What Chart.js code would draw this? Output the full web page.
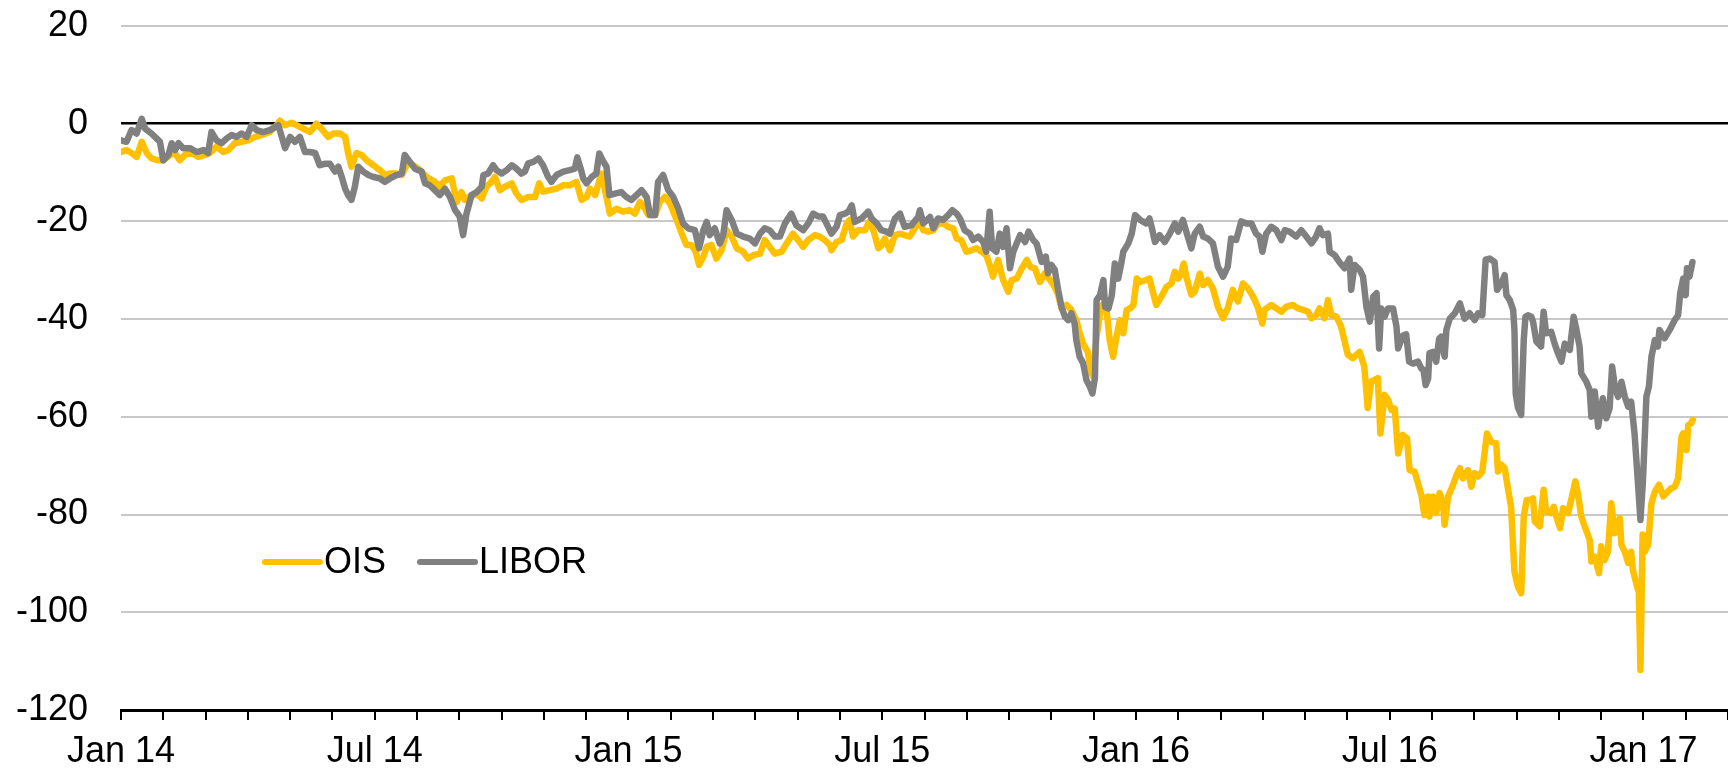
<!DOCTYPE html>
<html>
<head>
<meta charset="utf-8">
<script src="https://cdn.jsdelivr.net/npm/chart.js@4.4.0/dist/chart.umd.min.js"></script>
<style>
  html, body { margin: 0; padding: 0; background: #fff; }
  #chart { display: block; }
</style>
</head>
<body>
<canvas id="chart" width="1728" height="771" style="width:1728px;height:771px"></canvas>
<script>
// x values are months since Jan 2014
const xTickLabels = ['Jan 14', 'Jul 14', 'Jan 15', 'Jul 15', 'Jan 16', 'Jul 16', 'Jan 17'];
const yTicks = [20, 0, -20, -40, -60, -80, -100, -120];

const liborMonths = [
  0.00, 0.13, 0.25, 0.37, 0.49, 0.57, 0.72, 0.84, 0.92, 1.00,
  1.12, 1.20, 1.28, 1.36, 1.47, 1.63, 1.79, 1.95, 2.06, 2.14,
  2.26, 2.38, 2.50, 2.62, 2.73, 2.85, 2.97, 3.09, 3.21, 3.36,
  3.52, 3.72, 3.88, 4.00, 4.11, 4.23, 4.35, 4.47, 4.59, 4.70,
  4.82, 4.94, 5.06, 5.14, 5.22, 5.30, 5.37, 5.45, 5.53, 5.61,
  5.73, 5.85, 5.97, 6.12, 6.24, 6.36, 6.52, 6.64, 6.71, 6.83,
  6.95, 7.11, 7.19, 7.30, 7.42, 7.54, 7.66, 7.78, 7.90, 8.01,
  8.09, 8.17, 8.29, 8.41, 8.53, 8.57, 8.68, 8.80, 8.88, 9.00,
  9.12, 9.24, 9.35, 9.47, 9.55, 9.63, 9.75, 9.87, 9.98, 10.10,
  10.18, 10.30, 10.46, 10.61, 10.73, 10.79, 10.87, 10.93, 11.01, 11.13,
  11.24, 11.31, 11.39, 11.48, 11.55, 11.68, 11.83, 11.95, 12.07, 12.19,
  12.31, 12.43, 12.51, 12.63, 12.70, 12.82, 12.94, 13.06, 13.18, 13.29,
  13.41, 13.57, 13.67, 13.77, 13.85, 13.92, 14.04, 14.16, 14.24, 14.32,
  14.44, 14.56, 14.71, 14.87, 14.99, 15.11, 15.22, 15.34, 15.46, 15.58,
  15.70, 15.85, 15.97, 16.13, 16.25, 16.37, 16.49, 16.60, 16.68, 16.80,
  16.92, 17.00, 17.12, 17.20, 17.28, 17.35, 17.51, 17.67, 17.75, 17.87,
  17.98, 18.10, 18.18, 18.30, 18.42, 18.53, 18.69, 18.85, 18.89, 18.97,
  19.13, 19.21, 19.32, 19.44, 19.56, 19.66, 19.76, 19.84, 19.95, 20.07,
  20.15, 20.27, 20.39, 20.46, 20.54, 20.60, 20.70, 20.78, 20.86, 20.94,
  21.02, 21.10, 21.26, 21.38, 21.46, 21.57, 21.65, 21.77, 21.87, 21.92,
  22.00, 22.08, 22.16, 22.24, 22.32, 22.40, 22.47, 22.55, 22.59, 22.67,
  22.75, 22.83, 22.91, 22.97, 23.03, 23.07, 23.15, 23.23, 23.27, 23.35,
  23.43, 23.50, 23.58, 23.66, 23.70, 23.82, 23.90, 23.98, 24.10, 24.24,
  24.32, 24.37, 24.45, 24.56, 24.68, 24.80, 24.88, 24.92, 25.00, 25.11,
  25.19, 25.31, 25.39, 25.51, 25.59, 25.70, 25.82, 25.94, 26.06, 26.17,
  26.25, 26.37, 26.49, 26.61, 26.73, 26.84, 26.92, 26.99, 27.08, 27.20,
  27.32, 27.44, 27.52, 27.63, 27.79, 27.91, 28.03, 28.15, 28.26, 28.34,
  28.42, 28.54, 28.58, 28.70, 28.81, 28.93, 29.05, 29.09, 29.17, 29.29,
  29.37, 29.45, 29.53, 29.61, 29.69, 29.75, 29.80, 29.88, 29.96, 30.08,
  30.16, 30.20, 30.31, 30.39, 30.46, 30.55, 30.67, 30.75, 30.80, 30.85,
  30.91, 30.94, 31.02, 31.10, 31.17, 31.22, 31.30, 31.34, 31.42, 31.54,
  31.66, 31.77, 31.89, 32.01, 32.09, 32.19, 32.27, 32.36, 32.48, 32.54,
  32.64, 32.72, 32.76, 32.84, 32.92, 32.95, 32.98, 33.03, 33.11, 33.17,
  33.21, 33.27, 33.35, 33.39, 33.47, 33.58, 33.64, 33.70, 33.82, 33.90,
  33.98, 34.06, 34.14, 34.26, 34.35, 34.41, 34.49, 34.53, 34.65, 34.73,
  34.77, 34.85, 34.93, 34.96, 35.04, 35.12, 35.20, 35.26, 35.32, 35.40,
  35.48, 35.56, 35.64, 35.71, 35.79, 35.85, 35.93, 35.99, 36.07, 36.13,
  36.19, 36.27, 36.34, 36.38, 36.50, 36.62, 36.74, 36.82, 36.87, 36.94,
  37.00, 37.03, 37.09, 37.16
];
const liborValues = [
  -3.4, -3.7, -1.3, -2.0, 1.0, -1.0, -2.0, -3.0, -3.7, -7.5,
  -6.4, -4.0, -5.4, -4.0, -5.0, -5.0, -5.8, -5.4, -6.0, -1.7,
  -3.4, -4.0, -3.0, -2.3, -2.7, -2.0, -2.7, -0.3, -1.3, -1.7,
  -1.3, -0.3, -5.0, -2.7, -3.7, -2.7, -5.8, -5.8, -6.0, -8.5,
  -8.2, -8.2, -9.8, -8.8, -10.9, -13.3, -14.6, -15.6, -12.9, -8.8,
  -9.8, -10.5, -10.9, -11.2, -11.9, -11.2, -10.5, -10.2, -6.4, -7.8,
  -9.2, -9.8, -12.2, -12.6, -13.6, -14.6, -13.3, -15.0, -17.7, -19.0,
  -22.8, -18.4, -14.6, -14.0, -12.9, -10.5, -10.2, -8.5, -9.5, -10.2,
  -9.5, -8.5, -9.2, -10.2, -9.8, -8.1, -7.8, -7.1, -8.5, -10.9,
  -11.9, -10.5, -9.8, -9.5, -9.2, -6.9, -9.2, -11.2, -12.2, -10.9,
  -10.2, -6.1, -7.5, -8.8, -14.6, -14.3, -14.0, -15.0, -15.6, -14.6,
  -13.6, -15.0, -18.7, -18.7, -11.9, -10.5, -13.6, -15.0, -17.4, -20.4,
  -21.4, -21.8, -25.5, -21.8, -20.1, -22.8, -21.4, -24.5, -22.8, -17.7,
  -19.7, -22.5, -23.1, -23.5, -24.5, -22.5, -21.4, -21.8, -23.1, -23.1,
  -20.4, -18.4, -20.8, -21.8, -20.4, -18.4, -19.0, -19.0, -20.4, -22.5,
  -21.1, -18.7, -18.4, -18.0, -16.7, -20.1, -19.4, -18.0, -19.4, -20.4,
  -21.8, -22.1, -22.5, -19.4, -18.4, -21.1, -20.8, -19.1, -17.7, -20.4,
  -19.1, -21.4, -19.4, -19.7, -18.7, -17.7, -18.4, -19.4, -21.8, -22.5,
  -23.8, -23.1, -24.2, -26.2, -18.0, -25.5, -26.2, -22.5, -25.2, -21.4,
  -29.6, -26.2, -22.8, -24.2, -22.1, -23.8, -24.5, -28.3, -27.2, -30.6,
  -28.9, -29.9, -34.0, -37.5, -39.5, -40.2, -38.8, -40.9, -44.3, -47.7,
  -49.0, -52.5, -53.8, -55.2, -52.1, -36.1, -35.1, -32.0, -37.5, -37.8,
  -35.1, -28.6, -31.7, -28.3, -26.2, -24.5, -22.5, -18.7, -19.7, -20.4,
  -19.4, -21.1, -24.2, -22.8, -24.2, -22.5, -21.1, -20.4, -22.1, -19.7,
  -22.1, -25.5, -22.5, -21.1, -23.1, -23.5, -24.5, -29.3, -31.3, -29.3,
  -23.5, -23.8, -20.0, -20.4, -20.4, -22.5, -23.1, -26.2, -22.5, -21.1,
  -21.8, -23.8, -21.8, -22.1, -23.1, -21.8, -23.1, -24.5, -23.1, -21.4,
  -22.8, -22.5, -26.2, -26.9, -28.3, -29.6, -27.6, -34.0, -28.9, -29.9,
  -31.3, -37.5, -40.5, -35.4, -34.7, -46.0, -37.8, -39.5, -37.8, -37.8,
  -41.5, -46.0, -43.4, -43.1, -48.7, -49.1, -48.7, -50.1, -50.4, -53.5,
  -52.1, -47.0, -46.7, -48.7, -44.0, -43.6, -47.7, -42.2, -39.9, -38.8,
  -36.8, -39.9, -38.8, -40.2, -38.8, -39.2, -27.8, -27.6, -28.3, -34.0,
  -32.7, -31.0, -35.1, -36.1, -38.1, -42.2, -55.2, -58.0, -59.6, -44.3,
  -39.5, -39.2, -39.5, -40.5, -44.6, -45.6, -38.5, -42.9, -42.6, -45.0,
  -47.0, -48.7, -45.0, -46.3, -39.5, -41.9, -45.6, -51.1, -52.8, -54.5,
  -60.0, -54.8, -62.0, -60.3, -56.2, -60.3, -58.3, -49.7, -53.5, -55.9,
  -52.8, -55.9, -57.9, -56.9, -63.4, -70.9, -81.1, -72.9, -55.9, -53.8,
  -47.7, -44.3, -45.6, -42.2, -43.9, -42.2, -40.2, -39.2, -34.7, -31.7,
  -35.1, -29.6, -31.3, -28.3
];

const oisMonths = [
  0.00, 0.13, 0.25, 0.37, 0.49, 0.61, 0.72, 0.88, 1.00, 1.16,
  1.28, 1.39, 1.51, 1.67, 1.83, 1.99, 2.10, 2.26, 2.42, 2.54,
  2.69, 2.85, 3.01, 3.17, 3.33, 3.52, 3.68, 3.76, 3.88, 4.03,
  4.15, 4.31, 4.47, 4.62, 4.74, 4.90, 5.02, 5.18, 5.30, 5.37,
  5.45, 5.57, 5.69, 5.81, 5.97, 6.12, 6.24, 6.36, 6.52, 6.64,
  6.79, 6.91, 7.07, 7.23, 7.42, 7.54, 7.66, 7.82, 7.94, 8.05,
  8.13, 8.29, 8.45, 8.53, 8.64, 8.76, 8.84, 8.96, 9.08, 9.24,
  9.35, 9.47, 9.63, 9.79, 9.89, 9.98, 10.14, 10.30, 10.46, 10.61,
  10.77, 10.89, 11.01, 11.09, 11.21, 11.36, 11.48, 11.56, 11.72, 11.87,
  12.03, 12.15, 12.27, 12.39, 12.47, 12.63, 12.74, 12.86, 12.98, 13.14,
  13.26, 13.37, 13.49, 13.59, 13.67, 13.77, 13.85, 13.96, 14.08, 14.20,
  14.32, 14.44, 14.56, 14.71, 14.83, 14.95, 15.11, 15.22, 15.34, 15.46,
  15.62, 15.74, 15.89, 16.01, 16.13, 16.25, 16.41, 16.52, 16.64, 16.76,
  16.80, 16.92, 17.04, 17.16, 17.23, 17.31, 17.43, 17.59, 17.69, 17.79,
  17.91, 17.98, 18.06, 18.18, 18.30, 18.42, 18.53, 18.65, 18.77, 18.89,
  18.97, 19.09, 19.21, 19.32, 19.44, 19.56, 19.68, 19.76, 19.87, 19.99,
  20.11, 20.23, 20.35, 20.46, 20.54, 20.62, 20.74, 20.86, 20.98, 21.06,
  21.18, 21.30, 21.42, 21.50, 21.61, 21.73, 21.85, 21.97, 22.08, 22.16,
  22.24, 22.36, 22.47, 22.59, 22.67, 22.75, 22.86, 22.94, 22.99, 23.07,
  23.15, 23.23, 23.30, 23.38, 23.46, 23.54, 23.62, 23.70, 23.78, 23.86,
  23.94, 24.02, 24.10, 24.24, 24.32, 24.48, 24.60, 24.72, 24.84, 24.92,
  25.00, 25.07, 25.13, 25.19, 25.31, 25.39, 25.51, 25.59, 25.70, 25.82,
  25.94, 26.06, 26.17, 26.29, 26.41, 26.53, 26.65, 26.77, 26.88, 26.99,
  27.04, 27.20, 27.32, 27.44, 27.55, 27.71, 27.83, 27.95, 28.07, 28.15,
  28.26, 28.34, 28.46, 28.54, 28.62, 28.74, 28.85, 29.01, 29.13, 29.29,
  29.40, 29.48, 29.56, 29.72, 29.78, 29.88, 29.96, 30.04, 30.12, 30.20,
  30.31, 30.41, 30.47, 30.59, 30.67, 30.75, 30.82, 30.90, 30.94, 31.02,
  31.10, 31.18, 31.26, 31.30, 31.38, 31.50, 31.58, 31.66, 31.73, 31.85,
  31.93, 32.01, 32.09, 32.19, 32.30, 32.40, 32.52, 32.56, 32.64, 32.72,
  32.79, 32.87, 32.95, 33.03, 33.11, 33.17, 33.24, 33.31, 33.39, 33.43,
  33.55, 33.64, 33.70, 33.82, 33.88, 33.94, 34.03, 34.10, 34.22, 34.30,
  34.39, 34.45, 34.53, 34.61, 34.73, 34.77, 34.85, 34.95, 35.00, 35.08,
  35.16, 35.24, 35.32, 35.44, 35.48, 35.56, 35.64, 35.71, 35.75, 35.83,
  35.89, 35.93, 35.98, 36.03, 36.11, 36.19, 36.27, 36.37, 36.47, 36.54,
  36.66, 36.74, 36.82, 36.90, 36.94, 37.02, 37.06, 37.13, 37.17
];
const oisValues = [
  -5.8, -5.4, -6.0, -6.8, -3.7, -6.0, -7.1, -7.5, -7.5, -6.4,
  -6.0, -7.5, -6.4, -6.0, -6.8, -6.4, -6.0, -4.7, -5.8, -5.4,
  -4.0, -3.7, -3.4, -2.7, -2.3, -1.7, -0.3, 0.6, -0.3, 0.2,
  -0.3, -1.0, -1.7, 0.0, -1.0, -2.7, -2.0, -2.0, -2.7, -6.0,
  -8.8, -6.0, -6.4, -7.5, -8.5, -9.5, -10.5, -10.2, -10.2, -10.5,
  -7.8, -8.5, -9.5, -10.9, -11.9, -12.9, -11.6, -11.2, -16.0, -14.0,
  -15.6, -14.6, -14.6, -15.3, -12.9, -11.9, -10.9, -13.6, -12.9, -12.2,
  -14.3, -15.6, -15.0, -15.0, -12.2, -13.9, -13.6, -13.3, -12.6, -12.6,
  -11.9, -15.6, -15.0, -13.3, -14.6, -10.2, -15.0, -18.4, -17.4, -18.0,
  -17.7, -18.4, -16.0, -17.4, -18.7, -18.7, -16.0, -15.0, -16.3, -19.7,
  -22.5, -24.8, -24.8, -26.2, -28.9, -27.2, -25.2, -24.8, -27.6, -25.9,
  -21.8, -23.1, -25.5, -26.2, -27.6, -26.9, -26.6, -23.8, -25.2, -26.6,
  -26.2, -24.5, -22.5, -23.8, -25.2, -23.8, -22.8, -23.1, -23.8, -24.8,
  -25.9, -24.2, -23.8, -20.4, -19.7, -23.1, -21.8, -21.8, -20.1, -21.8,
  -25.5, -24.9, -23.5, -25.9, -22.8, -22.5, -22.8, -23.1, -21.4, -20.1,
  -21.8, -22.1, -21.8, -20.4, -20.4, -21.1, -21.4, -23.5, -23.8, -26.2,
  -25.9, -25.5, -26.2, -26.9, -28.9, -31.3, -27.9, -32.0, -34.4, -32.0,
  -31.7, -29.6, -27.9, -29.3, -29.6, -32.4, -30.6, -32.0, -33.4, -35.0,
  -37.8, -37.1, -38.1, -40.2, -42.9, -45.0, -46.7, -50.8, -51.8, -43.6,
  -38.8, -36.8, -37.8, -44.3, -47.7, -43.6, -40.2, -42.9, -38.1, -37.8,
  -37.1, -31.7, -32.4, -32.0, -31.7, -37.1, -35.4, -33.4, -32.7, -30.3,
  -31.7, -30.7, -28.6, -31.3, -35.0, -34.4, -30.7, -33.0, -32.0, -33.7,
  -37.5, -39.8, -37.8, -34.0, -36.4, -32.7, -33.7, -35.4, -37.5, -40.9,
  -38.1, -37.1, -37.8, -38.5, -37.5, -37.1, -37.8, -38.1, -38.5, -39.8,
  -39.2, -37.8, -39.8, -36.1, -39.2, -39.5, -41.5, -47.3, -48.0, -46.7,
  -49.7, -58.2, -52.8, -52.1, -63.4, -55.5, -56.5, -58.6, -58.3, -67.5,
  -63.7, -64.4, -70.9, -71.2, -73.6, -76.0, -80.1, -76.3, -80.4, -76.3,
  -79.7, -75.6, -77.7, -82.1, -76.3, -73.9, -71.9, -70.5, -72.6, -70.9,
  -74.3, -71.5, -72.2, -71.2, -63.4, -65.1, -65.4, -71.2, -69.8, -70.5,
  -74.3, -78.4, -91.7, -94.7, -96.1, -80.4, -77.0, -77.0, -76.7, -81.4,
  -82.4, -74.9, -79.4, -79.7, -78.4, -80.4, -82.8, -78.7, -79.7, -76.7,
  -73.2, -75.6, -80.4, -82.4, -85.2, -89.6, -88.6, -92.0, -86.5, -89.3,
  -87.6, -77.7, -83.8, -80.7, -86.2, -87.6, -89.9, -87.6, -91.3, -94.1,
  -95.8, -111.8, -84.1, -87.6, -86.2, -77.7, -75.3, -73.9, -76.3, -75.6,
  -74.6, -74.3, -72.6, -64.1, -63.4, -66.8, -61.7, -61.3, -60.6
];

const oisColor = '#FFC000';
const liborColor = '#808080';
const fontFamily = '"Liberation Sans", Arial, sans-serif';

function toPoints(xs, ys) {
    return xs.map((x, i) => ({ x: x, y: ys[i] }));
}

// legend sits inside the plot, bottom left
const insideLegend = {
    id: 'insideLegend',
    afterDraw(chart) {
        const ctx = chart.ctx;
        const items = [
            { label: 'OIS', color: oisColor, x: 265 },
            { label: 'LIBOR', color: liborColor, x: 420 },
        ];
        const y = 562;
        ctx.save();
        ctx.font = '36px ' + fontFamily;
        ctx.textBaseline = 'middle';
        ctx.fillStyle = '#000';
        ctx.lineWidth = 6;
        ctx.lineCap = 'round';
        items.forEach((it) => {
            ctx.strokeStyle = it.color;
            ctx.beginPath();
            ctx.moveTo(it.x, y);
            ctx.lineTo(it.x + 55, y);
            ctx.stroke();
            ctx.fillText(it.label, it.x + 59, y + 1);
        });
        ctx.restore();
    }
};

const config = {
    type: 'line',
    data: {
        datasets: [
            {
                label: 'LIBOR',
                data: toPoints(liborMonths, liborValues),
                borderColor: liborColor,
                borderWidth: 6.5,
                pointRadius: 0,
                tension: 0,
                borderJoinStyle: 'round',
                borderCapStyle: 'round',
                order: 0,
            },
            {
                label: 'OIS',
                data: toPoints(oisMonths, oisValues),
                borderColor: oisColor,
                borderWidth: 6.5,
                pointRadius: 0,
                tension: 0,
                borderJoinStyle: 'round',
                borderCapStyle: 'round',
                order: 1,
            },
        ],
    },
    options: {
        responsive: false,
        animation: false,
        devicePixelRatio: 1,
        layout: { padding: { top: 26, right: 0, left: 0, bottom: 0 } },
        plugins: {
            legend: { display: false },
            tooltip: { enabled: false },
        },
        scales: {
            x: {
                type: 'linear',
                min: 0,
                max: 38,
                afterFit: (s) => {
                    s.height = 61;
                    s.paddingLeft = 0;
                    s.paddingRight = 0;
                },
                afterBuildTicks: (s) => {
                    s.ticks = [];
                    for (let m = 0; m <= 38; m++) s.ticks.push({ value: m });
                },
                ticks: {
                    autoSkip: false,
                    maxRotation: 0,
                    padding: 10,
                    color: '#000',
                    font: { family: fontFamily, size: 36 },
                    callback: (v) => (v % 6 === 0 && v / 6 < xTickLabels.length) ? xTickLabels[v / 6] : '',
                },
                grid: {
                    drawOnChartArea: false,
                    drawTicks: true,
                    tickLength: 10,
                    color: '#000',
                    lineWidth: 2,
                },
                border: { display: true, color: '#000', width: 3 },
            },
            y: {
                min: -120,
                max: 20,
                afterFit: (s) => {
                    s.width = 121;
                    s.paddingTop = 0;
                    s.paddingBottom = 0;
                },
                afterBuildTicks: (s) => { s.ticks = yTicks.map((v) => ({ value: v })); },
                ticks: {
                    padding: 33,
                    color: '#000',
                    font: { family: fontFamily, size: 36 },
                },
                grid: {
                    drawTicks: false,
                    color: (c) => (c.tick.value === 0 || c.tick.value === -120) ? '#000' : '#c8c8c8',
                    lineWidth: (c) => c.tick.value === 0 ? 2.5 : 2,
                },
                border: { display: false },
            },
        },
    },
    plugins: [insideLegend],
};

new Chart(document.getElementById('chart'), config);
</script>
</body>
</html>
